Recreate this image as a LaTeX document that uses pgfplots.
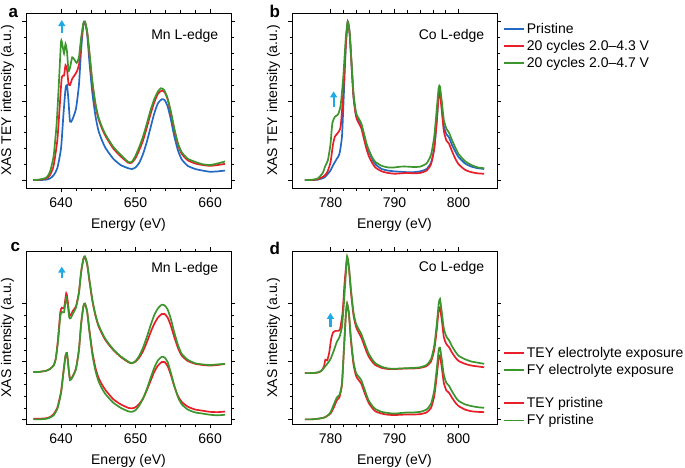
\documentclass[border=0pt]{standalone}
\usepackage{fontspec}
\setmainfont{Liberation Sans}
\usepackage{pgfplots}
\pgfplotsset{compat=1.18}
\usetikzlibrary{arrows.meta}
\definecolor{cBlue}{RGB}{35,105,195}
\definecolor{cRed}{RGB}{232,30,40}
\definecolor{cGreen}{RGB}{60,150,45}
\definecolor{cCyan}{RGB}{30,170,230}
\newcommand\fs{\fontsize{14}{16.8}\selectfont}
\newcommand\pl{\fontsize{17}{20}\selectfont\bfseries}
\pgfplotsset{
  xas/.style={
    scale only axis, width=205pt,
    tick align=outside,
    axis line style={line width=0.6pt},
    every tick/.style={black, line width=0.6pt},
    major tick length=4pt, minor tick length=2.5pt,
    ytick={0,1,2}, yticklabels={}, minor y tick num=4,
    minor x tick num=4,
    tick label style={font=\fs},
    xticklabel style={yshift=-2.5pt},
    label style={font=\fs},
    xlabel={Energy (eV)},
    xlabel style={yshift=-3.5pt},
    ylabel style={at={(axis description cs:-0.073,0.5)}, anchor=base},
    /pgf/number format/assume math mode=true,
    /pgf/number format/1000 sep={},
    every axis plot/.append style={line width=1.7pt, smooth, tension=0.35},
    legend image code/.code={\draw[line width=1.7pt] (0pt,0pt) -- (20pt,0pt);},
    legend cell align=left,
  },
  leg/.style={legend style={at={(axis description cs:1,#1)}, anchor=north west, draw=none, fill=none,
    font=\fs, xshift=3pt, row sep=1.5pt, nodes={inner sep=2pt}}},
  mn/.style={xmin=635.3, xmax=662.8, xtick={640,650,660}},
  co/.style={xmin=774, xmax=806, xtick={780,790,800}},
}
\begin{document}
\begin{tikzpicture}
\path[use as bounding box] (0pt,0pt) rectangle (685pt,-468pt);
\node[font=\pl, anchor=base west] at (5pt,-18pt) {a};
\node[font=\pl, anchor=base west] at (266pt,-18pt) {b};
\node[font=\pl, anchor=base west] at (7pt,-251pt) {c};
\node[font=\pl, anchor=base west] at (266pt,-254pt) {d};
% ---------------- panel a
\begin{axis}[xas, mn, at={(26pt,-13pt)}, anchor=north west, height=175pt,
  ymin=-0.1, ymax=2.11, ylabel={XAS TEY intensity (a.u.)}]
\addplot[cBlue] table {
636.3 0
637 0
638 0.005
638.5 0.02
639 0.06
639.5 0.15
640 0.4
640.3 0.8
640.6 1.15
640.8 1.2
641.0 1.0
641.2 0.74
641.5 0.76
642.0 0.9
642.4 1.2
642.7 1.65
643.0 1.97
643.2 2.0
643.5 1.85
643.8 1.5
644.2 1.1
644.6 0.82
645 0.63
645.5 0.5
646 0.4
647 0.27
648 0.19
649 0.15
649.5 0.14
650 0.16
650.5 0.22
651 0.33
651.5 0.48
652 0.66
652.5 0.84
653 0.97
653.5 1.02
653.9 1.01
654.3 0.93
654.7 0.78
655.2 0.55
655.7 0.37
656.2 0.26
657 0.18
658 0.14
659 0.12
660 0.105
661 0.11
662 0.12
};
\addplot[cRed] table {
636.3 0
637 0.003
638 0.02
638.5 0.06
639 0.18
639.5 0.5
639.8 0.9
640.1 1.3
640.4 1.32
640.6 1.45
640.8 1.4
641.0 1.22
641.2 1.2
641.5 1.28
642.0 1.35
642.4 1.45
642.7 1.75
643.0 1.97
643.2 2.0
643.5 1.87
643.8 1.6
644.2 1.22
644.6 0.95
645 0.78
645.5 0.65
646 0.55
647 0.4
648 0.3
649 0.22
649.5 0.22
650 0.28
650.5 0.38
651 0.5
651.5 0.66
652 0.83
652.5 0.98
653 1.09
653.5 1.13
653.9 1.11
654.3 1.02
654.7 0.86
655.2 0.63
655.7 0.44
656.2 0.33
657 0.25
658 0.21
659 0.19
660 0.18
661 0.19
662 0.205
};
\addplot[cGreen] table {
636.3 0
637 0.005
638 0.03
638.5 0.1
639 0.3
639.4 0.7
639.7 1.2
640.0 1.75
640.2 1.7
640.4 1.6
640.6 1.72
640.8 1.62
641.0 1.38
641.2 1.42
641.5 1.55
641.8 1.52
642.1 1.48
642.4 1.55
642.7 1.8
643.0 1.98
643.2 2.0
643.5 1.88
643.8 1.62
644.2 1.25
644.6 0.98
645 0.8
645.5 0.67
646 0.57
647 0.42
648 0.32
649 0.23
649.5 0.23
650 0.31
650.5 0.42
651 0.55
651.5 0.71
652 0.88
652.5 1.02
653 1.12
653.4 1.16
653.8 1.14
654.2 1.06
654.7 0.88
655.2 0.65
655.7 0.46
656.2 0.35
657 0.27
658 0.23
659 0.2
660 0.19
661 0.21
662 0.235
};
\draw[cCyan, line width=2.2pt, -{Triangle[length=6pt,width=7pt]}] (axis cs:640.1,1.86) -- (axis cs:640.1,2.02);
\node[font=\fs, anchor=east] at (axis description cs:0.955,0.87) {Mn L-edge};
\end{axis}
% ---------------- panel b
\begin{axis}[xas, co, at={(292pt,-13pt)}, anchor=north west, height=175pt,
  ymin=-0.1, ymax=2.11, ylabel={XAS TEY intensity (a.u.)},
  leg=1, legend style={yshift=-6pt}]
\addplot[cBlue] table {
776 0
777 0
778 0.005
779 0.03
779.5 0.07
780 0.12
780.5 0.2
781 0.27
781.4 0.33
781.8 0.55
782.1 1.1
782.4 1.7
782.7 2.0
783.0 1.85
783.3 1.45
783.6 1.05
784.0 0.82
784.4 0.76
784.8 0.7
785.2 0.58
785.6 0.45
786 0.36
786.5 0.27
787 0.2
788 0.14
789 0.12
790 0.11
791 0.105
792 0.1
793 0.1
794 0.11
795 0.14
795.7 0.22
796.2 0.4
796.6 0.75
796.9 1.1
797.1 1.12
797.4 0.9
797.7 0.68
798.1 0.58
798.5 0.54
799 0.44
799.5 0.36
800 0.29
801 0.21
802 0.17
803 0.15
804 0.14
};
\addlegendentry{Pristine}
\addplot[cRed] table {
776 0
777 0
778 0.01
779 0.05
779.5 0.1
780 0.22
780.4 0.45
780.7 0.55
781.2 0.6
781.6 0.68
782.0 1.1
782.4 1.7
782.7 2.0
783.0 1.85
783.3 1.45
783.6 1.05
784.0 0.8
784.4 0.72
784.8 0.66
785.2 0.53
785.6 0.4
786 0.3
786.5 0.22
787 0.16
788 0.11
789 0.09
790 0.08
791 0.085
792 0.09
793 0.085
794 0.09
795 0.12
795.7 0.2
796.2 0.4
796.6 0.75
796.9 1.07
797.1 1.1
797.4 0.86
797.7 0.62
798.1 0.5
798.5 0.46
799 0.36
799.5 0.27
800 0.2
801 0.13
802 0.1
803 0.085
804 0.08
};
\addlegendentry{20 cycles 2.0–4.3 V}
\addplot[cGreen] table {
776 0
777 0.003
778 0.02
778.8 0.09
779.2 0.18
779.6 0.25
780 0.45
780.3 0.72
780.7 0.8
781.2 0.83
781.6 0.95
782.0 1.3
782.4 1.8
782.7 2.0
783.0 1.86
783.3 1.48
783.6 1.1
784.0 0.85
784.4 0.78
784.8 0.72
785.2 0.6
785.6 0.47
786 0.38
786.5 0.29
787 0.23
788 0.18
789 0.16
790 0.16
791 0.17
792 0.17
793 0.165
794 0.17
795 0.21
795.7 0.32
796.2 0.55
796.6 0.9
796.9 1.17
797.1 1.18
797.4 0.98
797.7 0.76
798.1 0.65
798.5 0.6
799 0.5
799.5 0.41
800 0.33
801 0.24
802 0.19
803 0.16
804 0.15
};
\addlegendentry{20 cycles 2.0–4.7 V}
\draw[cCyan, line width=2.2pt, -{Triangle[length=6pt,width=7pt]}] (axis cs:780.5,0.92) -- (axis cs:780.5,1.12);
\node[font=\fs, anchor=east] at (axis description cs:0.955,0.87) {Co L-edge};
\end{axis}
% ---------------- panel c
\begin{axis}[xas, mn, at={(26pt,-251pt)}, anchor=north west, height=173pt,
  ymin=-0.08, ymax=2.91, ylabel={XAS intensity (a.u.)}]
\addplot[cRed] table {
636.3 0.01
637 0.01
638 0.02
638.5 0.04
639 0.09
639.5 0.2
640 0.48
640.3 0.8
640.6 1.1
640.8 1.13
641.0 0.9
641.2 0.7
641.5 0.73
642 0.88
642.4 1.2
642.7 1.65
643.0 1.95
643.2 2.0
643.5 1.87
643.8 1.55
644.2 1.17
644.6 0.9
645 0.73
645.5 0.6
646 0.5
647 0.35
648 0.26
649 0.2
649.5 0.19
650 0.21
650.5 0.27
651 0.36
651.5 0.5
652 0.66
652.5 0.82
653 0.93
653.5 0.99
653.9 0.99
654.3 0.92
654.7 0.78
655.2 0.57
655.7 0.4
656.2 0.3
657 0.22
658 0.17
659 0.15
660 0.13
661 0.125
662 0.135
};
\addplot[cGreen] table {
636.3 0.0
637 0.0
638 0.01
638.5 0.03
639 0.07
639.5 0.18
640 0.45
640.3 0.78
640.6 1.1
640.8 1.15
641.0 0.9
641.2 0.68
641.5 0.72
642 0.87
642.4 1.2
642.7 1.66
643.0 1.96
643.2 2.0
643.5 1.86
643.8 1.52
644.2 1.12
644.6 0.85
645 0.67
645.5 0.53
646 0.43
647 0.29
648 0.2
649 0.14
649.5 0.13
650 0.16
650.5 0.24
651 0.36
651.5 0.52
652 0.71
652.5 0.89
653 1.02
653.5 1.08
653.9 1.07
654.3 0.99
654.7 0.82
655.2 0.58
655.7 0.38
656.2 0.26
657 0.17
658 0.12
659 0.1
660 0.08
661 0.07
662 0.08
};
\addplot[cRed] table {
636.3 0.82
637 0.82
638 0.84
638.5 0.87
639 0.93
639.3 1.05
639.6 1.4
639.9 1.85
640.1 1.93
640.4 1.92
640.7 2.18
640.9 2.05
641.1 1.82
641.3 1.8
641.6 1.88
642 1.95
642.4 2.2
642.7 2.55
643.0 2.77
643.2 2.8
643.5 2.68
643.8 2.4
644.2 2.05
644.6 1.8
645 1.62
645.5 1.48
646 1.36
647 1.2
648 1.08
649 0.99
649.5 0.97
650 1.0
650.5 1.07
651 1.18
651.5 1.33
652 1.5
652.5 1.65
653 1.76
653.5 1.82
653.9 1.82
654.3 1.76
654.7 1.63
655.2 1.42
655.7 1.23
656.2 1.1
657 1.01
658 0.96
659 0.94
660 0.93
661 0.94
662 0.96
};
\addplot[cGreen] table {
636.3 0.82
637 0.82
638 0.84
638.5 0.87
639 0.93
639.3 1.05
639.6 1.35
639.9 1.78
640.1 1.86
640.4 1.85
640.7 2.11
640.9 1.98
641.1 1.76
641.3 1.75
641.6 1.83
642 1.93
642.4 2.18
642.7 2.55
643.0 2.78
643.2 2.82
643.5 2.7
643.8 2.42
644.2 2.07
644.6 1.82
645 1.64
645.5 1.5
646 1.38
647 1.21
648 1.09
649 1.0
649.5 0.97
650 1.01
650.5 1.1
651 1.24
651.5 1.42
652 1.62
652.5 1.8
653 1.92
653.5 1.98
653.9 1.97
654.3 1.9
654.7 1.75
655.2 1.5
655.7 1.28
656.2 1.13
657 1.03
658 0.97
659 0.95
660 0.94
661 0.95
662 0.96
};
\draw[cCyan, line width=2.2pt, -{Triangle[length=6pt,width=7pt]}] (axis cs:640.1,2.44) -- (axis cs:640.1,2.64);
\node[font=\fs, anchor=east] at (axis description cs:0.955,0.895) {Mn L-edge};
\end{axis}
% ---------------- panel d (upper pair + legend)
\begin{axis}[xas, co, at={(292pt,-251pt)}, anchor=north west, height=173pt,
  ymin=-0.08, ymax=2.91, ylabel={XAS intensity (a.u.)}, leg=0.47]
\addplot[cRed] table {
776 0.8
777 0.8
778 0.81
778.6 0.84
779.0 0.92
779.2 1.03
779.5 1.02
779.8 1.15
780.1 1.38
780.4 1.5
780.8 1.53
781.2 1.53
781.5 1.56
781.9 1.85
782.2 2.35
782.6 2.8
782.9 2.6
783.2 2.2
783.6 1.8
784.0 1.6
784.4 1.5
784.8 1.42
785.2 1.3
785.6 1.18
786 1.08
786.5 1.0
787 0.94
788 0.89
789 0.87
790 0.87
791 0.875
792 0.88
793 0.88
794 0.89
795 0.92
795.7 1.0
796.2 1.2
796.6 1.55
796.9 1.9
797.1 1.93
797.4 1.7
797.7 1.42
798.1 1.3
798.5 1.25
799 1.15
799.5 1.07
800 1.01
801 0.96
802 0.93
803 0.915
804 0.9
};
\addlegendentry{TEY electrolyte exposure}
\addplot[cGreen] table {
776 0.8
777 0.8
778 0.81
778.6 0.84
779.0 0.89
779.5 0.96
780 1.04
780.5 1.18
781 1.34
781.4 1.42
781.8 1.6
782.1 2.0
782.4 2.5
782.6 2.82
782.9 2.62
783.2 2.25
783.6 1.85
784.0 1.65
784.4 1.56
784.8 1.48
785.2 1.36
785.6 1.24
786 1.13
786.5 1.04
787 0.97
788 0.91
789 0.88
790 0.875
791 0.88
792 0.885
793 0.89
794 0.9
795 0.94
795.7 1.04
796.2 1.27
796.6 1.65
796.9 2.0
797.1 2.08
797.4 1.84
797.7 1.57
798.1 1.43
798.5 1.37
799 1.26
799.5 1.17
800 1.1
801 1.04
802 1.0
803 0.98
804 0.96
};
\addlegendentry{FY electrolyte exposure}
\draw[cCyan, line width=2.2pt, -{Triangle[length=6pt,width=7pt]}] (axis cs:780,1.6) -- (axis cs:780,1.84);
\node[font=\fs, anchor=east] at (axis description cs:0.955,0.9) {Co L-edge};
\end{axis}
% ---------------- panel d (lower pair + legend)
\begin{axis}[xas, co, at={(292pt,-251pt)}, anchor=north west, height=173pt,
  ymin=-0.08, ymax=2.91, hide axis, leg=0.178]
\addplot[cRed] table {
776 0
777 0
778 0.01
779 0.03
779.5 0.06
780 0.1
780.5 0.2
781 0.33
781.4 0.38
781.8 0.6
782.1 1.2
782.4 1.8
782.6 2.0
782.9 1.8
783.2 1.35
783.6 0.95
784.0 0.75
784.4 0.68
784.8 0.62
785.2 0.5
785.6 0.38
786 0.28
786.5 0.2
787 0.14
788 0.1
789 0.08
790 0.075
791 0.08
792 0.085
793 0.085
794 0.09
795 0.12
795.7 0.2
796.2 0.4
796.6 0.75
796.9 1.07
797.1 1.1
797.4 0.88
797.7 0.63
798.1 0.5
798.5 0.46
799 0.37
799.5 0.29
800 0.23
801 0.17
802 0.14
803 0.13
804 0.125
};
\addlegendentry{TEY pristine}
\addplot[cGreen] table {
776 0
777 0
778 0.01
779 0.03
779.5 0.06
780 0.12
780.5 0.25
781 0.38
781.4 0.42
781.8 0.62
782.1 1.2
782.4 1.8
782.6 2.0
782.9 1.82
783.2 1.4
783.6 1.0
784.0 0.8
784.4 0.74
784.8 0.68
785.2 0.56
785.6 0.43
786 0.32
786.5 0.24
787 0.18
788 0.13
789 0.11
790 0.1
791 0.11
792 0.12
793 0.12
794 0.13
795 0.17
795.7 0.27
796.2 0.5
796.6 0.88
796.9 1.2
797.1 1.24
797.4 1.02
797.7 0.77
798.1 0.63
798.5 0.58
799 0.48
799.5 0.39
800 0.32
801 0.26
802 0.23
803 0.21
804 0.2
};
\addlegendentry{FY pristine}
\end{axis}
\end{tikzpicture}
\end{document}
